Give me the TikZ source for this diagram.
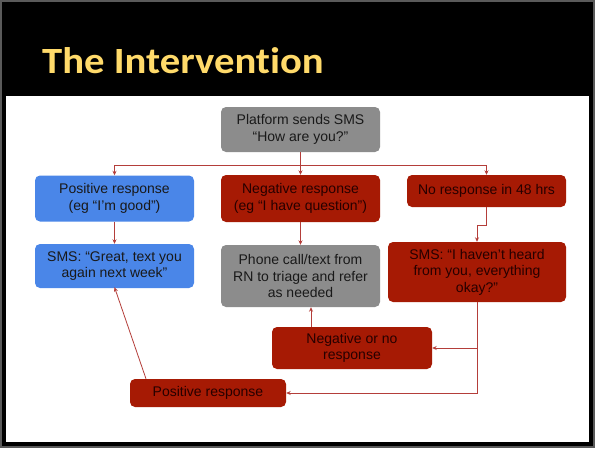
\documentclass[tikz,border=0pt]{standalone}
\usepackage{fontspec}
\setmainfont{Liberation Sans}
\newfontfamily\titlefont[Ligatures=CommonOff]{Carlito}
\usetikzlibrary{arrows.meta}
\definecolor{boxblue}{RGB}{74,134,232}
\definecolor{boxred}{RGB}{166,26,4}
\definecolor{boxgray}{RGB}{140,140,140}
\definecolor{linered}{RGB}{180,62,58}
\definecolor{titleyellow}{RGB}{255,218,106}
\definecolor{edgegray}{RGB}{90,90,90}
\tikzset{
  fbox/.style={rounded corners=5pt, align=center, inner sep=0pt,
    font=\fontsize{14}{16.5}\selectfont, text=black!90},
  bluebox/.style={fbox, fill=boxblue},
  redbox/.style={fbox, fill=boxred, text=black!85!red},
  graybox/.style={fbox, fill=boxgray},
  conn/.style={draw=linered, line width=0.8pt},
  arr/.style={conn, -{Stealth[length=4.5pt,width=4pt]}},
}
\begin{document}
\begin{tikzpicture}[x=1pt,y=-1pt]
\useasboundingbox (0,0) rectangle (595,448);
\fill[edgegray] (0,0) rectangle (595,448);
\fill[black] (2,2) rectangle (593,446);
\fill[white] (6,96) rectangle (589,442);
\node[anchor=base west, text=titleyellow, font=\titlefont\bfseries\fontsize{37}{40}\selectfont, inner sep=0pt] (title) at (42,73) {\scalebox{1.1}[1]{The Intervention}};

\node[graybox, minimum width=159pt, minimum height=45pt] (plat) at (300.5,129.5) {Platform sends SMS\\``How are you?''};
\node[bluebox, minimum width=159pt, minimum height=46pt] (pos) at (114.5,198.5) {Positive response\\(eg ``I'm good'')};
\node[redbox, minimum width=159pt, minimum height=47pt] (neg) at (300.5,198.5) {Negative response\\(eg ``I have question'')};
\node[redbox, minimum width=159pt, minimum height=32pt] (nor) at (486.5,191) {No response in 48 hrs};
\node[bluebox, minimum width=159pt, minimum height=44pt] (great) at (114.5,266) {SMS: ``Great, text you\\again next week''};
\node[graybox, minimum width=159pt, minimum height=62pt] (phone) at (300.5,276) {Phone call/text from\\RN to triage and refer\\as needed};
\node[redbox, minimum width=178pt, minimum height=60pt] (heard) at (477,272) {SMS: ``I haven't heard\\from you, everything\\okay?''};
\node[redbox, minimum width=160pt, minimum height=42pt] (negno) at (352,348) {Negative or no\\response};
\node[redbox, minimum width=156pt, minimum height=28pt] (posr) at (208,393) {Positive response};

\draw[conn] (plat.south) -- ++(0,13) coordinate (j);
\draw[arr] (j) -| (pos.north);
\draw[arr] (j) -- (neg.north);
\draw[arr] (j) -| (nor.north);
\draw[arr] (pos.south) -- (great.north);
\draw[arr] (neg.south) -- (phone.north);
\draw[arr] (nor.south) -- ++(0,18) -| (heard.north);
\draw[arr] (heard.south) |- (negno.east);
\draw[arr] (heard.south) |- (posr.east);
\draw[arr] ([xshift=-41pt]negno.north) -- ([xshift=-41pt]negno.north |- phone.south);
\draw[arr] ([xshift=-62pt]posr.north) -- ([yshift=1pt]great.south);
\end{tikzpicture}
\end{document}
